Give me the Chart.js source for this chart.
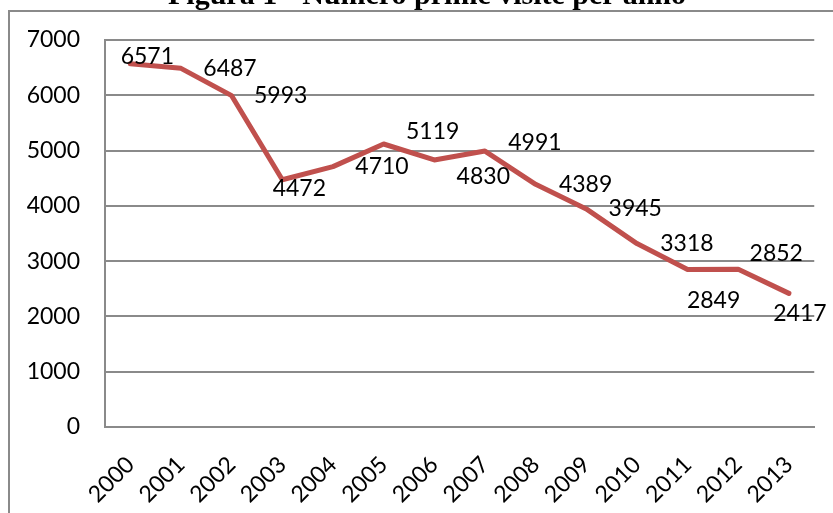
<!DOCTYPE html>
<html>
<head>
<meta charset="utf-8">
<script src="https://cdn.jsdelivr.net/npm/chart.js@4.4.1/dist/chart.umd.min.js"></script>
<style>
    html, body { margin: 0; padding: 0; background: #fff; overflow: hidden; }
    #frame {
        position: absolute; left: 8px; top: 10px;
        width: 900px; height: 600px;
        border: 2px solid #8a8a8a;
    }
    #myChart { position: absolute; left: 0; top: 0; }
    #title {
        position: absolute; left: 0; top: -21px; width: 854px;
        text-align: center;
        font: bold 30px "Liberation Serif", "Times New Roman", serif;
        line-height: 30px; color: #000; white-space: nowrap;
    }
</style>
</head>
<body>
<div id="frame"></div>
<canvas id="myChart" width="833" height="513"></canvas>
<div id="title">Figura 1 - Numero prime visite per anno</div>
<script>
const years = ['2000', '2001', '2002', '2003', '2004', '2005', '2006',
    '2007', '2008', '2009', '2010', '2011', '2012', '2013'];
const firstVisits = [6571, 6487, 5993, 4472, 4710, 5119, 4830,
    4991, 4389, 3945, 3318, 2849, 2852, 2417];
const yTicks = [0, 1000, 2000, 3000, 4000, 5000, 6000, 7000];

// where each value label sits, in px from its point (moved by hand in the original)
const labelShift = [
    [17, -7], [49, 0], [49, 0], [17, 9], [49, 0], [49, -12], [49, 17],
    [50, -8], [50, 0], [49, 0], [50, 0], [26, 31], [38, -16], [11, 20]
];

const LINE_COLOR = '#c0504d';
const GRID_COLOR = '#8a8a8a';
const FONT = { family: 'Lato', size: 23 };

const valueLabels = {
    id: 'valueLabels',
    afterDatasetsDraw(chart) {
        const ctx = chart.ctx;
        const meta = chart.getDatasetMeta(0);
        ctx.save();
        ctx.font = '23px Lato';
        ctx.fillStyle = '#000';
        ctx.textAlign = 'center';
        ctx.textBaseline = 'middle';
        meta.data.forEach((pt, i) => {
            const s = labelShift[i];
            ctx.fillText(String(firstVisits[i]), pt.x + s[0], pt.y + s[1]);
        });
        ctx.restore();
    }
};

function drawChart() {
    const ctx = document.getElementById('myChart').getContext('2d');
    new Chart(ctx, {
        type: 'line',
        data: {
            labels: years,
            datasets: [{
                data: firstVisits,
                borderColor: LINE_COLOR,
                borderWidth: 5,
                borderJoinStyle: 'round',
                borderCapStyle: 'round',
                tension: 0,
                pointRadius: 0,
                fill: false
            }]
        },
        options: {
            responsive: false,
            animation: false,
            devicePixelRatio: 1,
            layout: { padding: { left: 0, top: 40, right: 16, bottom: 0 } },
            plugins: {
                legend: { display: false },
                tooltip: { enabled: false }
            },
            scales: {
                x: {
                    offset: true,
                    grid: { display: false, drawTicks: false },
                    border: { display: true, color: GRID_COLOR, width: 2 },
                    ticks: {
                        font: FONT,
                        color: '#000',
                        minRotation: 45,
                        maxRotation: 45,
                        padding: 24,
                        autoSkip: false
                    },
                    afterFit(scale) { scale.height = 86; }
                },
                y: {
                    min: 0,
                    max: 7000,
                    afterBuildTicks(scale) {
                        scale.ticks = yTicks.map(v => ({ value: v }));
                    },
                    grid: { color: GRID_COLOR, lineWidth: 2, drawTicks: false },
                    border: { display: true, color: GRID_COLOR, width: 2 },
                    ticks: {
                        font: FONT,
                        color: '#000',
                        padding: 25,
                        callback: v => String(v)
                    },
                    afterFit(scale) { scale.width = 105; }
                }
            }
        },
        plugins: [valueLabels]
    });
}

document.fonts.load('23px Lato').then(drawChart, drawChart);
</script>
</body>
</html>
